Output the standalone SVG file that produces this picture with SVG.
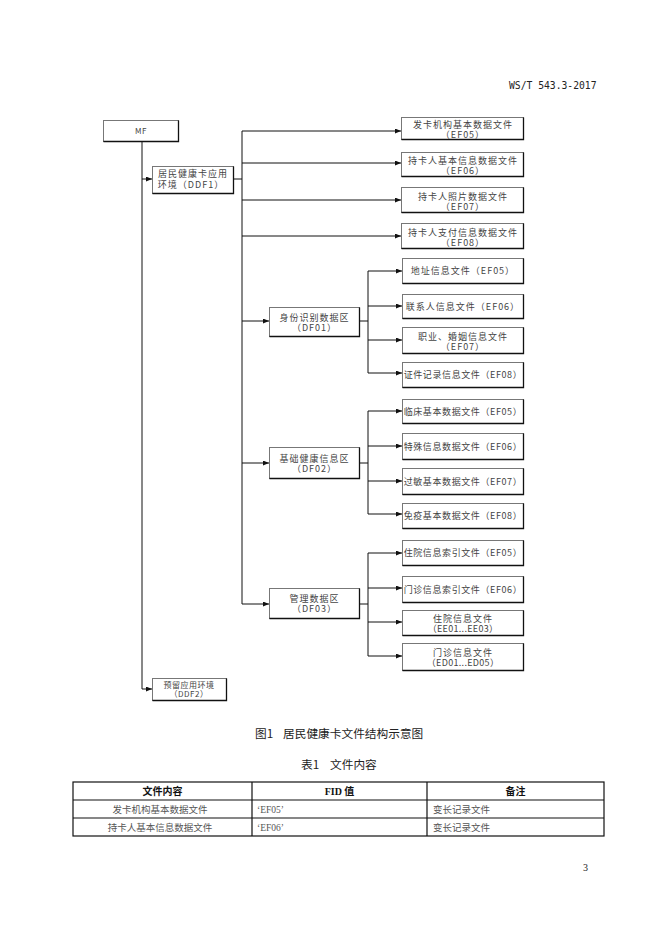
<svg xmlns="http://www.w3.org/2000/svg" width="662" height="936" viewBox="0 0 662 936">
<style>
.box{fill:#fff;stroke:#777;stroke-width:1}
.sh{fill:none;stroke:#111;stroke-width:1.3}
.ln{fill:none;stroke:#111;stroke-width:1}
.a{marker-end:url(#arr)}
.t{font-family:"Noto Sans CJK SC",sans-serif;font-size:9px;letter-spacing:1px;fill:#444;text-anchor:middle}
.ts{font-family:"Noto Sans CJK SC",sans-serif;font-size:8px;letter-spacing:0.5px;fill:#444;text-anchor:middle}
.cap{font-family:"Noto Sans CJK SC",sans-serif;font-size:11.7px;fill:#222}
.th{font-family:"Liberation Serif","Noto Sans CJK SC",serif;font-size:10px;font-weight:bold;fill:#111;text-anchor:middle}
.td{font-family:"Liberation Serif","Noto Sans CJK SC",serif;font-size:9.5px;fill:#555}
.tb{fill:none;stroke:#111;stroke-width:1.2}
.n{letter-spacing:0.6px}
.m{letter-spacing:0.3px}
</style>
<defs>
<marker id="arr" markerUnits="userSpaceOnUse" markerWidth="6" markerHeight="5" refX="6" refY="2.5" orient="auto">
<path d="M0,0 L6,2.5 L0,5 Z" fill="#111"/>
</marker>
</defs>
<rect width="662" height="936" fill="#fff"/>
<text x="509" y="89" style="font-family:'DejaVu Sans Mono',monospace;font-size:9.7px;fill:#222">WS/T 543.3-2017</text>

<g id="connectors">
<path class="ln a" d="M142 141.5 V689 H152"/>
<path class="ln a" d="M142 179 H152"/>
<path class="ln" d="M233.5 179 H242"/>
<path class="ln a" d="M242 131 V604 H269"/>
<path class="ln a" d="M242 131 H401"/>
<path class="ln a" d="M242 163 H401"/>
<path class="ln a" d="M242 200 H401"/>
<path class="ln a" d="M242 236 H401"/>
<path class="ln a" d="M242 321 H269"/>
<path class="ln a" d="M242 463 H269"/>
<path class="ln" d="M359.5 321 H368 M368 271 V373"/>
<path class="ln a" d="M368 271 H402"/>
<path class="ln a" d="M368 306 H402"/>
<path class="ln a" d="M368 340 H402"/>
<path class="ln a" d="M368 373 H402"/>
<path class="ln" d="M359.5 463 H368 M368 411 V514"/>
<path class="ln a" d="M368 411 H402"/>
<path class="ln a" d="M368 446 H402"/>
<path class="ln a" d="M368 481 H402"/>
<path class="ln a" d="M368 514 H402"/>
<path class="ln" d="M359.5 604 H368 M368 553 V656"/>
<path class="ln a" d="M368 553 H402"/>
<path class="ln a" d="M368 588 H402"/>
<path class="ln a" d="M368 622 H402"/>
<path class="ln a" d="M368 656 H402"/>
</g>

<g id="MF"><rect class="box" x="103.5" y="120.5" width="75" height="21"/><path class="sh" d="M178.5 120.5 V141.5 H103.5"/><text class="ts" x="141" y="133.5">MF</text></g>

<g id="DDF1"><rect class="box" x="152.5" y="166.5" width="81" height="27"/><path class="sh" d="M233.5 166.5 V193.5 H152.5"/><text class="t"><tspan x="193" y="177">居民健康卡应用</tspan><tspan x="191" y="187.5">环境（DDF1）</tspan></text></g>

<g id="DDF2"><rect class="box" x="152.5" y="678.5" width="74" height="22"/><path class="sh" d="M226.5 678.5 V700.5 H152.5"/><text class="ts"><tspan x="189" y="687.5">预留应用环境</tspan><tspan x="189" y="696.5">（DDF2）</tspan></text></g>

<g id="EF05a"><rect class="box" x="401.5" y="117.5" width="122" height="22"/><path class="sh" d="M523.5 117.5 V139.5 H401.5"/><text class="t"><tspan x="463" y="128">发卡机构基本数据文件</tspan><tspan x="463" y="137.5">（EF05）</tspan></text></g>
<g id="EF06a"><rect class="box" x="401.5" y="152.5" width="122" height="24"/><path class="sh" d="M523.5 152.5 V176.5 H401.5"/><text class="t"><tspan x="463" y="164">持卡人基本信息数据文件</tspan><tspan x="463" y="174">（EF06）</tspan></text></g>
<g id="EF07a"><rect class="box" x="401.5" y="187.5" width="122" height="25"/><path class="sh" d="M523.5 187.5 V212.5 H401.5"/><text class="t"><tspan x="463" y="199.5">持卡人照片数据文件</tspan><tspan x="463" y="209.5">（EF07）</tspan></text></g>
<g id="EF08a"><rect class="box" x="401.5" y="223.5" width="122" height="25"/><path class="sh" d="M523.5 223.5 V248.5 H401.5"/><text class="t"><tspan x="463" y="235.5">持卡人支付信息数据文件</tspan><tspan x="463" y="245.5">（EF08）</tspan></text></g>

<g id="DF01"><rect class="box" x="269.5" y="307.5" width="90" height="29"/><path class="sh" d="M359.5 307.5 V336.5 H269.5"/><text class="t"><tspan x="314.5" y="320.5">身份识别数据区</tspan><tspan x="314.5" y="330.5">（DF01）</tspan></text></g>
<g id="DF01_EF05"><rect class="box" x="402.5" y="258.5" width="121" height="25"/><path class="sh" d="M523.5 258.5 V283.5 H402.5"/><text class="t" x="463" y="274">地址信息文件（EF05）</text></g>
<g id="DF01_EF06"><rect class="box" x="402.5" y="294.5" width="121" height="24"/><path class="sh" d="M523.5 294.5 V318.5 H402.5"/><text class="t" x="463" y="309.5">联系人信息文件（EF06）</text></g>
<g id="DF01_EF07"><rect class="box" x="402.5" y="327.5" width="121" height="26"/><path class="sh" d="M523.5 327.5 V353.5 H402.5"/><text class="t"><tspan x="463" y="339.5">职业、婚姻信息文件</tspan><tspan x="463" y="349.5">（EF07）</tspan></text></g>
<g id="DF01_EF08"><rect class="box" x="402.5" y="362.5" width="121" height="25"/><path class="sh" d="M523.5 362.5 V387.5 H402.5"/><text class="t n" x="463" y="378">证件记录信息文件（EF08）</text></g>

<g id="DF02"><rect class="box" x="269.5" y="447.5" width="90" height="31"/><path class="sh" d="M359.5 447.5 V478.5 H269.5"/><text class="t"><tspan x="314.5" y="461.5">基础健康信息区</tspan><tspan x="314.5" y="471.5">（DF02）</tspan></text></g>
<g id="DF02_EF05"><rect class="box" x="402.5" y="399.5" width="121" height="24"/><path class="sh" d="M523.5 399.5 V423.5 H402.5"/><text class="t n" x="463" y="415">临床基本数据文件（EF05）</text></g>
<g id="DF02_EF06"><rect class="box" x="402.5" y="433.5" width="121" height="26"/><path class="sh" d="M523.5 433.5 V459.5 H402.5"/><text class="t n" x="463" y="450">特殊信息数据文件（EF06）</text></g>
<g id="DF02_EF07"><rect class="box" x="402.5" y="468.5" width="121" height="26"/><path class="sh" d="M523.5 468.5 V494.5 H402.5"/><text class="t n" x="463" y="485">过敏基本数据文件（EF07）</text></g>
<g id="DF02_EF08"><rect class="box" x="402.5" y="503.5" width="121" height="25"/><path class="sh" d="M523.5 503.5 V528.5 H402.5"/><text class="t n" x="463" y="519">免疫基本数据文件（EF08）</text></g>

<g id="DF03"><rect class="box" x="269.5" y="588.5" width="90" height="30"/><path class="sh" d="M359.5 588.5 V618.5 H269.5"/><text class="t"><tspan x="314.5" y="602">管理数据区</tspan><tspan x="314.5" y="612">（DF03）</tspan></text></g>
<g id="DF03_EF05"><rect class="box" x="402.5" y="540.5" width="121" height="25"/><path class="sh" d="M523.5 540.5 V565.5 H402.5"/><text class="t n" x="463" y="556">住院信息索引文件（EF05）</text></g>
<g id="DF03_EF06"><rect class="box" x="402.5" y="576.5" width="121" height="26"/><path class="sh" d="M523.5 576.5 V602.5 H402.5"/><text class="t n" x="463" y="592.5">门诊信息索引文件（EF06）</text></g>
<g id="DF03_EE"><rect class="box" x="402.5" y="610.5" width="121" height="25"/><path class="sh" d="M523.5 610.5 V635.5 H402.5"/><text class="t"><tspan x="463" y="622">住院信息文件</tspan><tspan class="m" x="463" y="632">（EE01...EE03）</tspan></text></g>
<g id="DF03_ED"><rect class="box" x="402.5" y="643.5" width="121" height="27"/><path class="sh" d="M523.5 643.5 V670.5 H402.5"/><text class="t"><tspan x="463" y="656">门诊信息文件</tspan><tspan class="m" x="463" y="666">（ED01...ED05）</tspan></text></g>

<text class="cap" x="255" y="737.5">图1</text>
<text class="cap" x="283" y="737.5">居民健康卡文件结构示意图</text>
<text class="cap" x="301" y="769">表1</text>
<text class="cap" x="330" y="769">文件内容</text>

<g id="table">
<rect class="tb" x="73" y="782" width="531" height="54"/>
<path class="tb" d="M73 800 H604 M73 818 H604 M252 782 V836 M427 782 V836"/>
<text class="th" x="162.5" y="795">文件内容</text>
<text class="th" x="339.5" y="795">FID 值</text>
<text class="th" x="515.5" y="795">备注</text>
<text class="td" x="160" y="813" text-anchor="middle">发卡机构基本数据文件</text>
<text class="td" x="257" y="813">‘EF05’</text>
<text class="td" x="433" y="813">变长记录文件</text>
<text class="td" x="160" y="831" text-anchor="middle">持卡人基本信息数据文件</text>
<text class="td" x="257" y="831">‘EF06’</text>
<text class="td" x="433" y="831">变长记录文件</text>
</g>

<text x="583" y="871" style="font-family:'Liberation Serif',serif;font-size:10px;fill:#222">3</text>
</svg>
